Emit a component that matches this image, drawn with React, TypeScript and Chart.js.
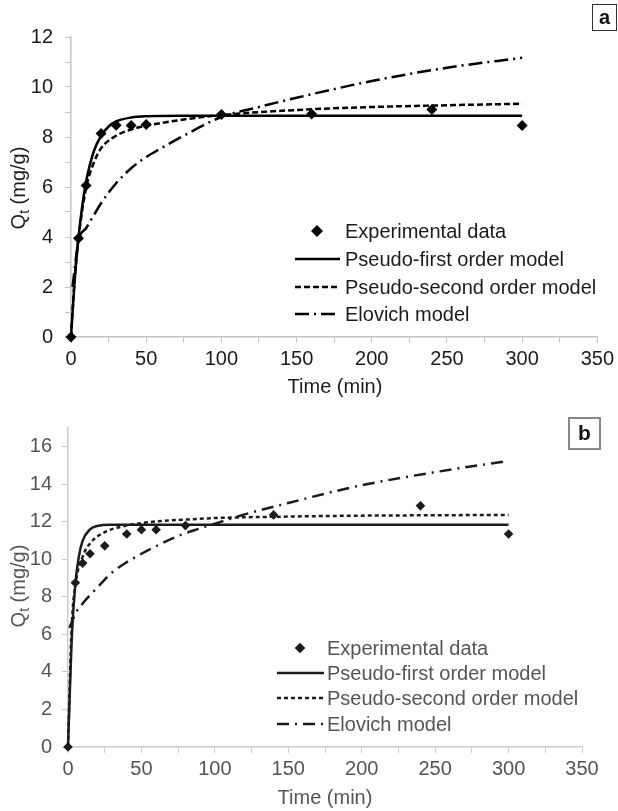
import React, { useEffect, useRef } from 'react';
import { Chart, registerables } from 'chart.js';
Chart.register(...registerables);

const FONT = '"Liberation Sans", Arial, Helvetica, sans-serif';

const SERIES_LABELS = ['Experimental data', 'Pseudo-first order model', 'Pseudo-second order model', 'Elovich model'];
const X_TITLE = 'Time (min)';
const X_TICKS = [0, 25, 50, 75, 100, 125, 150, 175, 200, 225, 250, 275, 300, 325, 350];

// ---- Panel a ----
const A_Y_TICKS = [0, 1, 2, 3, 4, 5, 6, 7, 8, 9, 10, 11, 12];
const A_EXP_T = [0, 5, 10, 20, 30, 40, 50, 100, 160, 240, 300];
const A_EXP_Q = [0, 3.95, 6.06, 8.14, 8.47, 8.46, 8.5, 8.9, 8.92, 9.1, 8.46];
const A_PFO_T = [0, 2.5, 5, 7.5, 10, 15, 20, 25, 30, 40, 50, 75, 100, 150, 200, 250, 300];
const A_PFO_Q = [0, 2.3, 3.98, 5.25, 6.2, 7.4, 8.05, 8.42, 8.62, 8.78, 8.83, 8.85, 8.85, 8.85, 8.85, 8.85, 8.85];
const A_PSO_T = [0, 2.5, 5, 10, 15, 20, 30, 40, 50, 75, 100, 150, 200, 250, 300];
const A_PSO_Q = [0, 2.4, 3.95, 5.95, 6.95, 7.55, 8.05, 8.3, 8.45, 8.7, 8.88, 9.08, 9.2, 9.27, 9.33];
const A_ELO_T = [1, 5, 10, 15, 20, 30, 40, 50, 60, 75, 100, 125, 150, 200, 250, 300];
const A_ELO_Q = [2.0, 3.85, 4.35, 4.85, 5.35, 6.15, 6.75, 7.2, 7.55, 8.05, 8.8, 9.2, 9.57, 10.24, 10.77, 11.17];

// ---- Panel b ----
const B_Y_TICKS = [0, 2, 4, 6, 8, 10, 12, 14, 16];
const B_EXP_T = [0, 5, 10, 15, 25, 40, 50, 60, 80, 140, 240, 300];
const B_EXP_Q = [0, 8.75, 9.8, 10.3, 10.72, 11.35, 11.58, 11.58, 11.8, 12.37, 12.85, 11.35];
const B_PFO_T = [0, 2.5, 5, 7.5, 10, 15, 20, 30, 50, 100, 200, 300];
const B_PFO_Q = [0, 5.7, 8.7, 10.2, 11.0, 11.6, 11.78, 11.84, 11.85, 11.85, 11.85, 11.85];
const B_PSO_T = [0, 2.5, 5, 10, 15, 25, 40, 60, 80, 100, 150, 200, 250, 300];
const B_PSO_Q = [0, 6.4, 8.6, 10.15, 10.85, 11.45, 11.8, 12.02, 12.12, 12.2, 12.28, 12.33, 12.35, 12.37];
const B_ELO_T = [1, 5, 10, 20, 30, 40, 50, 60, 75, 90, 100, 125, 150, 175, 200, 250, 300];
const B_ELO_Q = [6.35, 7.1, 7.65, 8.5, 9.3, 9.85, 10.3, 10.7, 11.25, 11.65, 11.9, 12.5, 13.0, 13.5, 13.95, 14.65, 15.25];

type Panel = {
  label: string;
  height: number;
  yMax: number;
  yTicks: number[];
  yLabelEvery: number;
  exp: [number[], number[]];
  pfo: [number[], number[]];
  pso: [number[], number[]];
  elo: [number[], number[]];
  padding: { top: number; right: number; left: number; bottom: number };
  yAxisW: number;
  xAxisH: number;
  yPad: number;
  xPad: number;
  ink: string;
  text: string;
  axis: string;
  markerR: number;
  psoDash: number[];
  eloDash: number[];
  yTitle: [number, number];
  xTitle: [number, number];
  legend: { rows: number[]; textX: number; markX: number; lineX0: number; lineX1: number; size: number };
  box: { x: number; y: number; w: number; h: number; border: string; bw: number; size: number };
};

const PANELS: Panel[] = [
  {
    label: 'a', height: 398, yMax: 12, yTicks: A_Y_TICKS, yLabelEvery: 2,
    exp: [A_EXP_T, A_EXP_Q], pfo: [A_PFO_T, A_PFO_Q], pso: [A_PSO_T, A_PSO_Q], elo: [A_ELO_T, A_ELO_Q],
    padding: { top: 37, right: 19, left: 0, bottom: 0 }, yAxisW: 71, xAxisH: 61, yPad: 12, xPad: 4,
    ink: '#000000', text: '#1b1b1b', axis: '#c4c4c4', markerR: 5.5,
    psoDash: [6, 3], eloDash: [14, 5, 2, 5],
    yTitle: [19.5, 188], xTitle: [335, 387],
    legend: { rows: [231, 259, 287, 314], textX: 345, markX: 317, lineX0: 295, lineX1: 340, size: 20 },
    box: { x: 592, y: 4, w: 25, h: 27, border: '#333', bw: 1, size: 20 },
  },
  {
    label: 'b', height: 413, yMax: 17, yTicks: B_Y_TICKS, yLabelEvery: 2,
    exp: [B_EXP_T, B_EXP_Q], pfo: [B_PFO_T, B_PFO_Q], pso: [B_PSO_T, B_PSO_Q], elo: [B_ELO_T, B_ELO_Q],
    padding: { top: 30, right: 36, left: 0, bottom: 0 }, yAxisW: 68, xAxisH: 64, yPad: 10, xPad: 4,
    ink: '#1c1c1c', text: '#555555', axis: '#cccccc', markerR: 4.8,
    psoDash: [4, 3], eloDash: [12, 6, 2, 6],
    yTitle: [19.5, 188], xTitle: [325, 400],
    legend: { rows: [250, 275, 300, 326], textX: 327, markX: 300, lineX0: 277, lineX1: 324, size: 20 },
    box: { x: 568, y: 19, w: 33, h: 33, border: '#888', bw: 2, size: 21 },
  },
];

function pts(xs: number[], ys: number[]) {
  return xs.map((x, i) => ({ x, y: ys[i] }));
}

function drawDiamond(ctx: CanvasRenderingContext2D, x: number, y: number, r: number, color: string) {
  ctx.beginPath();
  ctx.moveTo(x, y - r);
  ctx.lineTo(x + r, y);
  ctx.lineTo(x, y + r);
  ctx.lineTo(x - r, y);
  ctx.closePath();
  ctx.fillStyle = color;
  ctx.fill();
}

function buildChart(canvas: HTMLCanvasElement, p: Panel) {
  const decor = {
    id: 'decor' + p.label,
    afterDraw(chart: any) {
      const ctx: CanvasRenderingContext2D = chart.ctx;
      ctx.save();
      // x title
      ctx.fillStyle = p.text;
      ctx.font = `20px ${FONT}`;
      ctx.textAlign = 'center';
      ctx.textBaseline = 'middle';
      ctx.fillText(X_TITLE, p.xTitle[0], p.xTitle[1]);
      // y title with subscript
      ctx.save();
      ctx.translate(p.yTitle[0], p.yTitle[1]);
      ctx.rotate(-Math.PI / 2);
      ctx.textAlign = 'left';
      ctx.textBaseline = 'middle';
      ctx.font = `20px ${FONT}`;
      const wQ = ctx.measureText('Q').width;
      const wRest = ctx.measureText(' (mg/g)').width;
      ctx.font = `14px ${FONT}`;
      const wt = ctx.measureText('t').width;
      let x = -(wQ + wt + wRest) / 2;
      ctx.font = `20px ${FONT}`;
      ctx.fillText('Q', x, 0);
      x += wQ;
      ctx.font = `14px ${FONT}`;
      ctx.fillText('t', x, 6);
      x += wt;
      ctx.font = `20px ${FONT}`;
      ctx.fillText(' (mg/g)', x, 0);
      ctx.restore();
      // legend
      const L = p.legend;
      ctx.font = `${L.size}px ${FONT}`;
      ctx.textAlign = 'left';
      ctx.textBaseline = 'middle';
      SERIES_LABELS.forEach((lab, i) => {
        const y = L.rows[i];
        ctx.fillStyle = p.text;
        ctx.fillText(lab, L.textX, y + 1);
        if (i === 0) {
          drawDiamond(ctx, L.markX, y, p.markerR + 0.5, p.ink);
        } else {
          ctx.beginPath();
          ctx.strokeStyle = p.ink;
          ctx.lineWidth = 2.5;
          ctx.setLineDash(i === 1 ? [] : i === 2 ? p.psoDash : p.eloDash);
          ctx.moveTo(L.lineX0, y);
          ctx.lineTo(L.lineX1, y);
          ctx.stroke();
          ctx.setLineDash([]);
        }
      });
      // panel label box
      const B = p.box;
      ctx.fillStyle = '#ffffff';
      ctx.fillRect(B.x, B.y, B.w, B.h);
      ctx.strokeStyle = B.border;
      ctx.lineWidth = B.bw;
      ctx.strokeRect(B.x + B.bw / 2, B.y + B.bw / 2, B.w - B.bw, B.h - B.bw);
      ctx.fillStyle = '#111';
      ctx.font = `bold ${B.size}px ${FONT}`;
      ctx.textAlign = 'center';
      ctx.textBaseline = 'middle';
      ctx.fillText(p.label, B.x + B.w / 2, B.y + B.h / 2 + 1);
      ctx.restore();
    },
  };

  return new Chart(canvas, {
    type: 'line',
    data: {
      datasets: [
        {
          label: SERIES_LABELS[0],
          data: pts(p.exp[0], p.exp[1]),
          showLine: false,
          pointStyle: 'rectRot',
          pointRadius: p.markerR,
          pointBackgroundColor: p.ink,
          pointBorderColor: p.ink,
          pointBorderWidth: 0,
          borderColor: p.ink,
          backgroundColor: p.ink,
          clip: false,
          order: 0,
        },
        {
          label: SERIES_LABELS[1],
          data: pts(p.pfo[0], p.pfo[1]),
          borderColor: p.ink,
          borderWidth: 2.5,
          pointRadius: 0,
          cubicInterpolationMode: 'monotone',
          fill: false,
          clip: false,
          order: 1,
        },
        {
          label: SERIES_LABELS[2],
          data: pts(p.pso[0], p.pso[1]),
          borderColor: p.ink,
          borderWidth: 2.5,
          borderDash: p.psoDash,
          pointRadius: 0,
          cubicInterpolationMode: 'monotone',
          fill: false,
          clip: false,
          order: 2,
        },
        {
          label: SERIES_LABELS[3],
          data: pts(p.elo[0], p.elo[1]),
          borderColor: p.ink,
          borderWidth: 2.5,
          borderDash: p.eloDash,
          pointRadius: 0,
          cubicInterpolationMode: 'monotone',
          fill: false,
          clip: false,
          order: 3,
        },
      ],
    },
    options: {
      responsive: false,
      animation: false,
      events: [],
      layout: { padding: p.padding },
      plugins: { legend: { display: false }, tooltip: { enabled: false }, title: { display: false } },
      scales: {
        x: {
          type: 'linear',
          min: 0,
          max: 350,
          afterBuildTicks: (s: any) => { s.ticks = X_TICKS.map((v) => ({ value: v })); },
          afterFit: (s: any) => { s.height = p.xAxisH; },
          grid: { drawOnChartArea: false, drawTicks: true, tickLength: 6, color: p.axis, lineWidth: 1 },
          border: { display: true, color: p.axis, width: 1.5 },
          ticks: {
            autoSkip: false, maxRotation: 0, minRotation: 0, padding: p.xPad, color: p.text,
            font: { family: FONT, size: 20 },
            callback: (v: any) => (Number(v) % 50 === 0 ? String(v) : ''),
          },
        },
        y: {
          type: 'linear',
          min: 0,
          max: p.yMax,
          afterBuildTicks: (s: any) => { s.ticks = p.yTicks.map((v) => ({ value: v })); },
          afterFit: (s: any) => { s.width = p.yAxisW; },
          grid: { drawOnChartArea: false, drawTicks: true, tickLength: 6, color: p.axis, lineWidth: 1 },
          border: { display: true, color: p.axis, width: 1.5 },
          ticks: {
            autoSkip: false, padding: p.yPad, color: p.text,
            font: { family: FONT, size: 20 },
            callback: (v: any) => (Number(v) % p.yLabelEvery === 0 ? String(v) : ''),
          },
        },
      },
    },
    plugins: [decor],
  } as any);
}

function PanelChart({ p, top }: { p: Panel; top: number }) {
  const ref = useRef<HTMLCanvasElement | null>(null);
  useEffect(() => {
    if (!ref.current) return;
    const chart = buildChart(ref.current, p);
    return () => chart.destroy();
  }, [p]);
  return (
    <canvas
      ref={ref}
      width={618}
      height={p.height}
      style={{ position: 'absolute', left: 0, top, width: 618, height: p.height, display: 'block' }}
    />
  );
}

export default function App() {
  return (
    <div style={{ position: 'absolute', left: 0, top: 0, width: 618, height: 811, background: '#ffffff', overflow: 'hidden' }}>
      <PanelChart p={PANELS[0]} top={0} />
      <PanelChart p={PANELS[1]} top={398} />
    </div>
  );
}
